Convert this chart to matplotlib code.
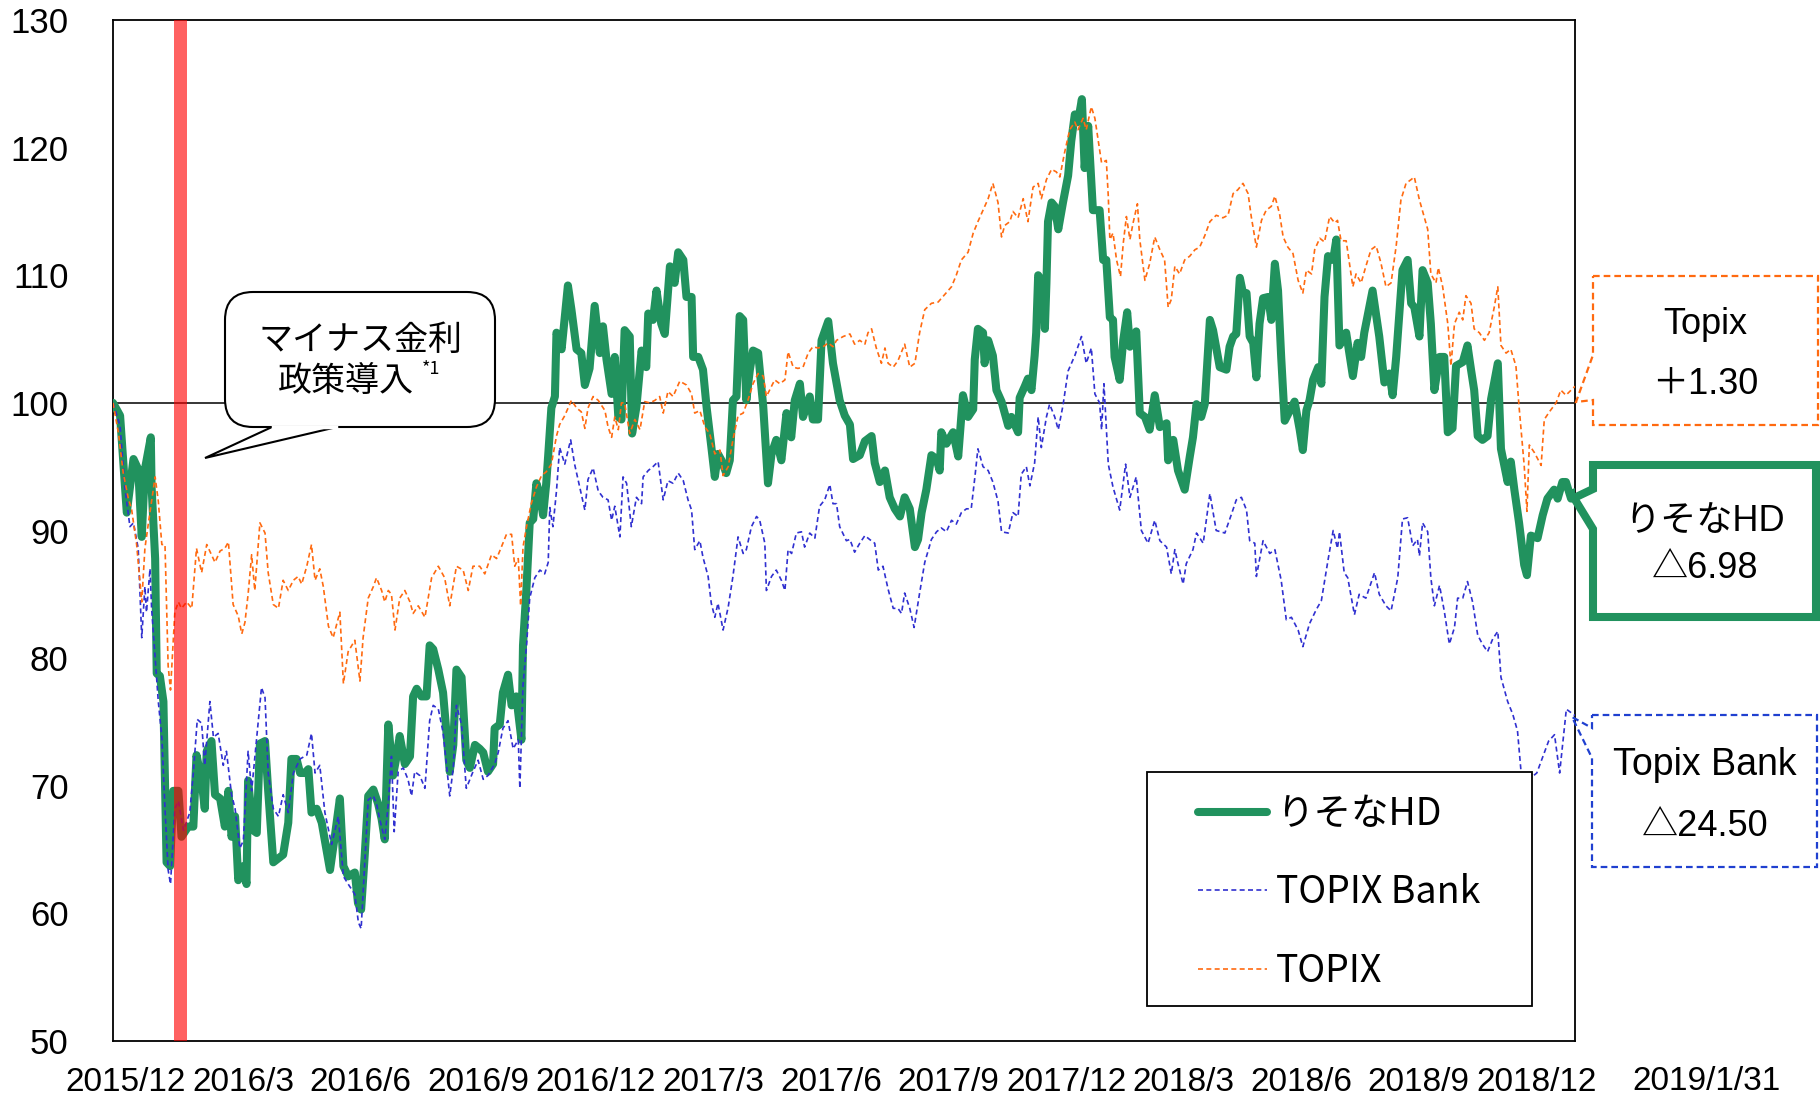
import numpy as np
import matplotlib
matplotlib.use('Agg')
import matplotlib.pyplot as plt
import matplotlib.transforms as mtransforms
from matplotlib.patches import FancyBboxPatch, Polygon, Rectangle

# months since 2015/12/30, values indexed to 100
hd_t = [0.00, 0.18, 0.35, 0.52, 0.64, 0.73, 0.81, 0.96, 0.98, 1.07,
        1.11, 1.19, 1.28, 1.36, 1.45, 1.53, 1.66, 1.74, 1.91, 2.04,
        2.12, 2.25, 2.33, 2.38, 2.50, 2.59, 2.72, 2.84, 2.93, 3.01,
        3.10, 3.18, 3.31, 3.39, 3.43, 3.56, 3.65, 3.73, 3.86, 3.94,
        4.07, 4.32, 4.45, 4.53, 4.66, 4.75, 4.87, 4.96, 5.04, 5.17,
        5.30, 5.51, 5.63, 5.76, 5.85, 5.97, 6.14, 6.22, 6.30, 6.39,
        6.48, 6.61, 6.73, 6.82, 6.90, 6.99, 7.11, 7.20, 7.28, 7.41,
        7.54, 7.62, 7.71, 7.83, 7.96, 8.04, 8.13, 8.26, 8.38, 8.55,
        8.64, 8.72, 8.85, 8.97, 9.06, 9.19, 9.31, 9.40, 9.52, 9.65,
        9.69, 9.82, 9.90, 10.03, 10.12, 10.24, 10.37, 10.41, 10.50, 10.58,
        10.67, 10.75, 10.84, 10.92, 11.00, 11.05, 11.13, 11.22, 11.26, 11.39,
        11.55, 11.64, 11.77, 11.89, 11.98, 12.10, 12.23, 12.36, 12.44, 12.53,
        12.66, 12.74, 12.83, 12.91, 12.99, 13.12, 13.18, 13.29, 13.42, 13.54,
        13.59, 13.71, 13.80, 13.92, 14.01, 14.14, 14.26, 14.35, 14.48, 14.56,
        14.69, 14.73, 14.86, 14.98, 15.07, 15.19, 15.28, 15.36, 15.45, 15.57,
        15.66, 15.74, 15.83, 15.91, 16.00, 16.08, 16.17, 16.25, 16.38, 16.51,
        16.63, 16.72, 16.84, 16.97, 17.10, 17.22, 17.31, 17.44, 17.52, 17.69,
        17.77, 17.90, 17.99, 18.16, 18.28, 18.45, 18.58, 18.71, 18.79, 18.96,
        19.09, 19.26, 19.34, 19.47, 19.60, 19.72, 19.85, 19.98, 20.10, 20.23,
        20.36, 20.44, 20.53, 20.65, 20.78, 20.91, 20.99, 21.03, 21.16, 21.33,
        21.46, 21.58, 21.71, 21.84, 21.88, 21.96, 22.09, 22.13, 22.22, 22.34,
        22.43, 22.56, 22.64, 22.73, 22.81, 22.98, 23.02, 23.15, 23.23, 23.32,
        23.40, 23.44, 23.49, 23.61, 23.66, 23.70, 23.74, 23.83, 23.91, 24.00,
        24.12, 24.25, 24.33, 24.42, 24.50, 24.60, 24.67, 24.76, 24.88, 25.05,
        25.14, 25.22, 25.31, 25.39, 25.43, 25.56, 25.65, 25.75, 25.82, 25.90,
        25.98, 26.07, 26.20, 26.32, 26.45, 26.58, 26.75, 26.79, 26.92, 27.04,
        27.21, 27.34, 27.42, 27.51, 27.63, 27.72, 27.85, 27.93, 28.10, 28.27,
        28.35, 28.44, 28.52, 28.61, 28.69, 28.78, 28.86, 28.95, 29.03, 29.11,
        29.20, 29.33, 29.41, 29.50, 29.58, 29.66, 29.75, 29.88, 30.00, 30.13,
        30.21, 30.30, 30.38, 30.47, 30.60, 30.68, 30.76, 30.85, 30.98, 31.06,
        31.14, 31.31, 31.48, 31.60, 31.69, 31.77, 31.98, 32.15, 32.28, 32.41,
        32.49, 32.58, 32.74, 32.87, 32.96, 33.04, 33.17, 33.25, 33.38, 33.46,
        33.55, 33.68, 33.80, 33.89, 34.01, 34.10, 34.27, 34.39, 34.48, 34.56,
        34.65, 34.77, 34.90, 34.99, 35.16, 35.24, 35.41, 35.49, 35.58, 35.70,
        35.83, 35.90, 36.00, 36.17, 36.30, 36.42, 36.59, 36.68, 36.80, 36.89,
        37.02, 37.12]
hd_val = [100.0, 99.0, 91.4, 95.6, 94.8, 89.5, 94.8, 97.3, 93.4, 87.8,
          78.8, 78.6, 76.6, 64.0, 63.7, 69.6, 69.6, 66.0, 66.8, 66.8,
          72.4, 70.4, 68.2, 72.7, 73.5, 69.3, 69.0, 66.8, 69.6, 66.0,
          67.6, 62.6, 63.7, 62.3, 70.4, 66.5, 66.3, 73.3, 73.5, 69.6,
          64.0, 64.6, 67.1, 72.1, 72.1, 71.0, 71.0, 71.3, 67.9, 68.2,
          67.1, 63.4, 66.0, 69.0, 63.7, 62.9, 63.2, 60.8, 60.3, 64.5,
          69.2, 69.7, 68.6, 67.4, 65.8, 74.8, 70.8, 72.3, 73.9, 71.7,
          72.3, 77.0, 77.6, 77.0, 77.0, 81.0, 80.7, 79.1, 77.3, 71.1,
          73.2, 79.1, 78.5, 72.0, 71.4, 73.2, 72.9, 72.6, 71.1, 71.7,
          74.5, 74.8, 77.3, 78.7, 76.3, 77.0, 73.6, 81.0, 85.6, 90.6,
          90.9, 93.7, 92.8, 91.2, 93.7, 95.9, 99.6, 100.5, 105.5, 104.2,
          109.2, 107.3, 104.2, 103.9, 101.4, 102.7, 107.6, 103.9, 106.0, 103.4,
          100.7, 103.6, 98.9, 98.7, 105.7, 105.2, 97.6, 99.7, 104.1, 102.8,
          107.0, 106.5, 108.8, 106.2, 105.4, 110.7, 109.4, 111.8, 111.2, 108.3,
          108.3, 103.6, 103.6, 102.6, 99.7, 96.6, 94.2, 96.0, 95.5, 94.5,
          95.5, 100.2, 100.5, 106.8, 106.5, 100.2, 102.6, 104.1, 103.9, 99.7,
          93.7, 96.0, 97.1, 95.5, 99.2, 97.3, 100.2, 101.5, 98.9, 100.5,
          98.7, 98.7, 104.9, 106.4, 103.1, 100.2, 99.0, 98.3, 95.6, 95.9,
          97.0, 97.4, 95.3, 93.8, 94.7, 92.6, 91.7, 91.1, 92.6, 91.7,
          88.7, 89.3, 91.4, 93.2, 95.9, 95.6, 94.7, 97.7, 96.8, 97.7,
          95.8, 100.6, 98.9, 99.5, 103.4, 105.8, 105.5, 103.1, 104.9, 103.7,
          101.0, 100.1, 99.2, 98.2, 98.9, 97.7, 100.4, 101.3, 101.9, 101.0,
          103.7, 105.5, 110.0, 109.4, 105.8, 109.4, 114.2, 115.7, 115.4, 113.6,
          115.7, 117.8, 120.5, 122.6, 122.0, 123.8, 118.4, 121.7, 115.1, 115.1,
          111.2, 111.2, 106.7, 106.5, 103.6, 101.8, 104.9, 107.1, 104.4, 104.7,
          105.6, 99.2, 98.9, 97.9, 100.6, 98.1, 98.4, 95.5, 97.1, 94.7,
          93.2, 95.8, 97.3, 99.9, 98.9, 99.9, 106.5, 105.7, 102.8, 102.6,
          104.4, 105.2, 105.4, 109.8, 108.6, 108.6, 105.2, 104.7, 102.0, 106.2,
          108.2, 108.3, 106.5, 110.9, 108.8, 103.6, 98.6, 99.4, 100.1, 97.9,
          96.3, 99.4, 100.2, 101.8, 102.8, 101.5, 108.3, 111.5, 111.2, 112.8,
          104.5, 105.5, 102.1, 104.7, 103.6, 105.5, 108.8, 105.2, 101.6, 102.3,
          100.6, 103.6, 110.4, 111.2, 107.8, 107.5, 105.2, 110.4, 109.4, 106.2,
          101.0, 103.6, 103.6, 97.7, 98.0, 102.9, 103.2, 104.5, 102.6, 101.0,
          97.4, 97.1, 97.4, 100.3, 103.1, 96.4, 93.8, 95.4, 93.2, 90.6,
          87.3, 86.5, 89.6, 89.4, 91.2, 92.5, 93.2, 92.5, 93.8, 93.8,
          92.5, 93.0]

topix_t = [0.00, 0.14, 0.26, 0.39, 0.47, 0.60, 0.73, 0.81, 0.90, 0.98,
           1.07, 1.15, 1.24, 1.32, 1.40, 1.46, 1.57, 1.66, 1.74, 1.87,
           2.00, 2.12, 2.25, 2.38, 2.50, 2.59, 2.72, 2.84, 2.93, 3.05,
           3.18, 3.27, 3.35, 3.43, 3.52, 3.60, 3.73, 3.86, 3.94, 4.07,
           4.20, 4.32, 4.45, 4.58, 4.70, 4.79, 4.92, 5.04, 5.13, 5.25,
           5.34, 5.47, 5.59, 5.76, 5.85, 5.97, 6.14, 6.27, 6.35, 6.48,
           6.61, 6.69, 6.82, 6.90, 6.99, 7.07, 7.16, 7.28, 7.41, 7.54,
           7.62, 7.75, 7.92, 8.09, 8.26, 8.42, 8.55, 8.72, 8.89, 9.02,
           9.14, 9.31, 9.44, 9.61, 9.74, 9.86, 9.99, 10.12, 10.20, 10.29,
           10.35, 10.41, 10.50, 10.62, 10.75, 10.88, 11.00, 11.13, 11.26, 11.34,
           11.47, 11.64, 11.77, 11.89, 11.98, 12.06, 12.19, 12.32, 12.49, 12.57,
           12.66, 12.74, 12.83, 12.91, 12.99, 13.12, 13.25, 13.38, 13.50, 13.63,
           13.76, 13.88, 13.97, 14.09, 14.22, 14.39, 14.56, 14.69, 14.77, 14.90,
           15.03, 15.15, 15.28, 15.41, 15.49, 15.62, 15.74, 15.87, 16.00, 16.12,
           16.25, 16.38, 16.51, 16.59, 16.67, 16.80, 16.93, 17.06, 17.14, 17.27,
           17.39, 17.52, 17.65, 17.77, 17.90, 18.03, 18.16, 18.28, 18.37, 18.54,
           18.71, 18.83, 18.96, 19.09, 19.17, 19.26, 19.38, 19.51, 19.60, 19.68,
           19.81, 19.93, 20.10, 20.23, 20.36, 20.48, 20.61, 20.78, 20.95, 21.12,
           21.29, 21.41, 21.54, 21.71, 21.84, 21.96, 22.09, 22.22, 22.34, 22.47,
           22.56, 22.64, 22.77, 22.85, 22.98, 23.11, 23.23, 23.36, 23.49, 23.57,
           23.70, 23.83, 23.95, 24.04, 24.16, 24.29, 24.42, 24.50, 24.63, 24.71,
           24.84, 24.93, 25.10, 25.22, 25.27, 25.31, 25.39, 25.48, 25.58, 25.65,
           25.73, 25.82, 25.90, 26.01, 26.07, 26.20, 26.32, 26.45, 26.58, 26.70,
           26.79, 26.87, 26.96, 27.08, 27.21, 27.34, 27.47, 27.59, 27.72, 27.85,
           28.01, 28.18, 28.31, 28.44, 28.56, 28.69, 28.82, 28.90, 29.03, 29.16,
           29.28, 29.41, 29.50, 29.62, 29.71, 29.83, 29.96, 30.09, 30.21, 30.30,
           30.43, 30.51, 30.64, 30.76, 30.89, 31.02, 31.09, 31.18, 31.31, 31.48,
           31.56, 31.69, 31.81, 31.94, 32.07, 32.19, 32.32, 32.45, 32.58, 32.70,
           32.83, 32.96, 33.04, 33.17, 33.29, 33.38, 33.46, 33.59, 33.65, 33.76,
           33.89, 33.97, 34.06, 34.18, 34.27, 34.35, 34.48, 34.56, 34.69, 34.82,
           34.94, 35.07, 35.16, 35.24, 35.37, 35.49, 35.62, 35.70, 35.83, 35.90,
           35.96, 36.09, 36.26, 36.34, 36.47, 36.64, 36.76, 36.89, 37.02, 37.12]
topix_val = [100.0, 97.6, 94.5, 92.5, 91.7, 88.9, 84.4, 88.6, 90.6, 92.3,
             94.2, 92.3, 88.9, 88.9, 79.4, 77.5, 83.6, 84.4, 83.9, 84.4,
             83.9, 88.6, 86.7, 88.9, 88.1, 87.5, 88.4, 88.6, 89.1, 84.2,
             83.3, 81.9, 82.8, 85.0, 88.1, 85.3, 90.6, 89.8, 86.7, 84.2,
             83.9, 86.1, 85.3, 86.1, 86.4, 85.8, 87.2, 88.9, 86.1, 87.0,
             85.6, 82.5, 81.6, 83.6, 78.0, 80.5, 81.4, 78.2, 81.6, 84.7,
             85.6, 86.3, 85.3, 84.4, 85.3, 85.0, 82.2, 84.7, 85.3, 84.4,
             83.5, 84.1, 83.2, 86.3, 87.2, 86.3, 84.1, 87.2, 86.9, 85.3,
             87.2, 87.2, 86.6, 88.1, 87.8, 88.7, 89.7, 89.7, 87.2, 87.8,
             84.1, 88.7, 90.3, 92.1, 93.4, 94.3, 94.6, 95.2, 97.4, 98.3,
             99.0, 100.2, 99.6, 99.3, 98.0, 99.6, 100.5, 100.2, 99.4, 98.1,
             97.3, 98.9, 97.9, 100.0, 100.0, 97.6, 98.7, 97.9, 100.1, 100.0,
             100.2, 100.5, 99.2, 100.9, 100.5, 101.7, 101.4, 100.7, 99.2, 99.4,
             98.1, 97.6, 96.0, 96.3, 94.3, 95.0, 97.1, 99.0, 99.2, 100.2,
             101.5, 102.3, 102.1, 100.5, 101.0, 101.8, 101.5, 101.8, 104.0, 102.8,
             102.7, 102.8, 103.9, 104.4, 104.3, 104.4, 104.7, 104.4, 104.9, 105.2,
             105.4, 104.6, 104.9, 104.6, 105.5, 105.8, 104.3, 103.1, 104.3, 103.1,
             102.8, 103.3, 104.6, 102.8, 103.1, 105.5, 107.3, 107.8, 107.9, 108.5,
             109.1, 110.0, 111.2, 111.8, 113.3, 114.2, 115.1, 116.0, 117.2, 115.7,
             113.0, 113.9, 114.2, 115.0, 114.5, 116.0, 114.2, 116.9, 117.2, 116.0,
             117.5, 118.3, 118.1, 117.7, 119.6, 121.4, 122.0, 121.4, 122.3, 121.4,
             123.2, 122.3, 118.8, 119.0, 116.2, 112.8, 113.3, 111.2, 109.9, 112.5,
             114.6, 112.8, 114.1, 115.6, 112.8, 109.6, 110.9, 113.0, 112.0, 111.2,
             107.5, 108.1, 110.7, 110.1, 111.2, 111.5, 112.0, 112.2, 113.1, 114.2,
             114.7, 114.5, 114.7, 116.4, 116.7, 117.2, 116.4, 114.6, 112.2, 114.3,
             115.1, 115.4, 116.2, 114.8, 113.0, 112.2, 111.7, 109.6, 108.6, 110.4,
             110.1, 112.0, 112.9, 112.6, 114.6, 114.1, 114.3, 112.7, 112.7, 109.1,
             110.1, 109.4, 110.7, 112.0, 112.3, 111.0, 109.1, 109.4, 112.3, 115.9,
             117.2, 117.5, 117.7, 115.9, 114.6, 113.6, 110.1, 109.4, 110.6, 109.1,
             106.2, 102.9, 106.2, 107.1, 106.5, 108.4, 107.8, 105.8, 105.5, 104.9,
             105.5, 107.5, 109.1, 104.5, 103.9, 104.2, 102.9, 99.7, 95.1, 91.5,
             96.7, 96.1, 95.1, 98.7, 99.3, 100.0, 101.0, 100.6, 101.0, 101.3]

bank_t = [0.00, 0.18, 0.30, 0.43, 0.52, 0.64, 0.73, 0.81, 0.85, 0.94,
          0.98, 1.07, 1.15, 1.24, 1.32, 1.40, 1.46, 1.57, 1.66, 1.79,
          1.95, 2.04, 2.14, 2.25, 2.33, 2.46, 2.55, 2.67, 2.80, 2.88,
          3.01, 3.10, 3.22, 3.31, 3.43, 3.52, 3.65, 3.77, 3.86, 3.94,
          4.07, 4.20, 4.32, 4.45, 4.58, 4.75, 4.92, 5.04, 5.13, 5.25,
          5.38, 5.55, 5.72, 5.85, 5.97, 6.14, 6.23, 6.30, 6.40, 6.48,
          6.61, 6.69, 6.77, 6.90, 6.99, 7.07, 7.14, 7.24, 7.37, 7.49,
          7.58, 7.66, 7.79, 7.92, 8.04, 8.13, 8.26, 8.38, 8.55, 8.64,
          8.72, 8.85, 8.97, 9.14, 9.27, 9.40, 9.52, 9.69, 9.78, 9.90,
          10.03, 10.16, 10.29, 10.33, 10.41, 10.50, 10.58, 10.71, 10.84, 10.96,
          11.05, 11.09, 11.17, 11.26, 11.34, 11.47, 11.62, 11.72, 11.85, 11.98,
          12.06, 12.19, 12.32, 12.44, 12.57, 12.66, 12.74, 12.87, 12.95, 13.04,
          13.16, 13.29, 13.42, 13.46, 13.59, 13.71, 13.84, 13.97, 14.09, 14.22,
          14.35, 14.48, 14.60, 14.69, 14.77, 14.90, 14.98, 15.11, 15.19, 15.28,
          15.36, 15.49, 15.62, 15.74, 15.87, 16.00, 16.08, 16.21, 16.34, 16.42,
          16.55, 16.59, 16.72, 16.84, 16.97, 17.06, 17.14, 17.23, 17.35, 17.48,
          17.56, 17.69, 17.82, 17.94, 18.07, 18.20, 18.28, 18.37, 18.45, 18.62,
          18.71, 18.83, 18.96, 19.09, 19.21, 19.34, 19.43, 19.55, 19.68, 19.81,
          19.93, 20.02, 20.10, 20.23, 20.34, 20.48, 20.61, 20.78, 20.91, 21.03,
          21.16, 21.29, 21.41, 21.54, 21.67, 21.79, 21.88, 21.96, 22.09, 22.22,
          22.34, 22.47, 22.56, 22.73, 22.85, 22.98, 23.06, 23.19, 23.28, 23.40,
          23.49, 23.57, 23.70, 23.78, 23.91, 24.00, 24.12, 24.25, 24.42, 24.59,
          24.71, 24.84, 24.93, 25.05, 25.10, 25.16, 25.27, 25.39, 25.56, 25.71,
          25.82, 25.98, 26.11, 26.28, 26.45, 26.58, 26.75, 26.87, 26.96, 27.04,
          27.17, 27.25, 27.42, 27.51, 27.68, 27.85, 28.01, 28.23, 28.40, 28.52,
          28.65, 28.78, 28.86, 28.99, 29.03, 29.20, 29.37, 29.50, 29.66, 29.79,
          29.92, 30.09, 30.21, 30.38, 30.55, 30.68, 30.85, 30.98, 31.09, 31.14,
          31.26, 31.35, 31.52, 31.64, 31.81, 32.03, 32.15, 32.32, 32.45, 32.62,
          32.74, 32.87, 33.00, 33.12, 33.17, 33.25, 33.38, 33.46, 33.55, 33.68,
          33.80, 33.93, 34.06, 34.14, 34.27, 34.39, 34.52, 34.65, 34.77, 34.90,
          35.03, 35.16, 35.24, 35.41, 35.54, 35.66, 35.75, 35.95, 36.15, 36.45,
          36.60, 36.73, 36.90, 37.12]
bank_val = [100.0, 98.2, 93.4, 90.3, 90.6, 88.6, 81.6, 85.6, 83.6, 87.0,
            83.9, 80.0, 76.6, 73.8, 68.2, 63.4, 62.3, 68.2, 68.8, 66.5,
            67.9, 71.0, 75.2, 74.9, 71.6, 76.6, 73.8, 74.1, 71.6, 72.7,
            69.3, 68.2, 65.1, 65.7, 72.7, 69.6, 73.8, 77.7, 76.9, 71.0,
            68.2, 67.6, 69.3, 67.9, 71.0, 72.1, 72.4, 74.1, 71.0, 71.6,
            67.9, 65.4, 67.6, 62.9, 62.3, 61.5, 59.3, 58.8, 64.5, 68.9,
            69.2, 68.6, 67.4, 65.8, 68.6, 72.3, 66.4, 71.1, 71.4, 70.5,
            69.2, 71.1, 70.8, 69.8, 75.1, 76.3, 76.0, 74.2, 69.2, 71.4,
            76.3, 74.8, 69.8, 71.1, 72.0, 70.5, 70.8, 71.7, 72.6, 74.5,
            75.1, 72.9, 73.6, 69.8, 77.9, 81.0, 84.7, 86.3, 86.9, 86.6,
            87.5, 91.8, 90.3, 93.1, 96.5, 95.2, 97.1, 95.2, 93.4, 91.6,
            94.0, 94.9, 93.1, 92.6, 92.4, 90.8, 91.9, 89.5, 94.2, 93.7,
            90.3, 92.6, 92.1, 94.2, 94.7, 95.0, 95.4, 92.4, 93.9, 93.7,
            94.5, 93.9, 92.4, 91.6, 88.5, 89.2, 87.9, 86.4, 84.3, 83.2,
            84.3, 82.2, 84.0, 86.4, 89.5, 88.2, 88.5, 90.3, 91.1, 90.8,
            89.0, 85.3, 86.4, 86.9, 86.1, 85.3, 88.5, 88.2, 89.8, 89.9,
            88.7, 89.8, 89.4, 91.9, 92.4, 93.6, 92.1, 92.1, 90.3, 89.2,
            89.3, 88.3, 89.0, 89.6, 89.3, 89.0, 86.9, 87.2, 85.4, 83.9,
            83.9, 83.5, 85.1, 83.9, 82.4, 85.1, 87.5, 89.3, 89.9, 90.2,
            89.9, 90.8, 90.5, 91.4, 91.7, 91.7, 94.1, 96.4, 95.0, 94.7,
            93.8, 92.3, 89.9, 89.8, 91.4, 91.1, 94.4, 95.0, 93.5, 95.3,
            98.9, 96.5, 98.9, 99.9, 98.9, 97.9, 99.8, 102.5, 103.7, 105.2,
            103.1, 104.3, 100.7, 100.0, 97.9, 101.5, 95.2, 93.4, 91.6, 95.2,
            92.6, 94.2, 90.0, 89.0, 90.8, 89.2, 88.7, 86.6, 88.5, 87.4,
            85.8, 87.4, 88.5, 89.8, 89.0, 92.9, 90.0, 89.8, 91.3, 92.4,
            92.6, 91.6, 89.2, 89.0, 86.4, 89.2, 88.2, 88.5, 86.1, 83.0,
            83.2, 82.2, 80.9, 82.7, 83.8, 84.5, 87.7, 90.0, 88.6, 89.9,
            86.7, 86.3, 83.4, 85.0, 84.7, 86.7, 85.0, 84.1, 83.7, 86.3,
            90.9, 91.0, 88.8, 89.3, 88.0, 90.6, 89.9, 86.3, 84.1, 85.7,
            83.7, 81.1, 82.4, 84.7, 84.7, 86.0, 84.4, 81.8, 81.1, 80.5,
            81.5, 82.1, 78.5, 76.6, 75.6, 74.3, 71.1, 70.5, 71.0, 73.5,
            74.0, 71.0, 76.0, 75.5]

x_labels = ['2015/12', '2016/3', '2016/6', '2016/9', '2016/12', '2017/3', '2017/6',
            '2017/9', '2017/12', '2018/3', '2018/6', '2018/9', '2018/12']
y_ticks = [50, 60, 70, 80, 90, 100, 110, 120, 130]
series_names = ['りそなHD', 'TOPIX Bank', 'TOPIX']
policy_span = (1.56, 1.88)

GREEN = '#21925E'
BLUE = '#3030D0'
ORANGE = '#FF6A10'

W, H = 1820, 1097
plt.rcParams['font.family'] = ['Liberation Sans', 'Noto Sans CJK JP', 'DejaVu Sans']
JP = ['Noto Sans CJK JP', 'DejaVu Sans']

fig = plt.figure(figsize=(W / 100, H / 100), dpi=100)
ax = fig.add_axes([113 / W, 1 - 1041 / H, 1462 / W, 1021 / H])
# pixel coords of the output image, origin top-left
px = mtransforms.Affine2D().scale(1 / W, -1 / H).translate(0, 1) + fig.transFigure

ax.axhline(100, color='black', lw=1.1, zorder=1.5)
l_hd, = ax.plot(hd_t, hd_val, color=GREEN, lw=5.8, solid_joinstyle='round',
                solid_capstyle='round', zorder=3, label=series_names[0])
l_bank, = ax.plot(bank_t, bank_val, color=BLUE, lw=1.2, ls=(0, (3, 2)),
                  zorder=4, label=series_names[1])
l_topix, = ax.plot(topix_t, topix_val, color=ORANGE, lw=1.2, ls=(0, (3, 2)),
                   zorder=5, label=series_names[2])
ax.axvspan(*policy_span, color='red', alpha=0.62, lw=0, zorder=6)

ax.set_xlim(0, 37.12)
ax.set_ylim(50, 130)
ax.set_yticks(y_ticks)
ax.set_xticks(0.32 + 2.985 * np.arange(len(x_labels)), x_labels)
ax.tick_params(axis='y', length=0, pad=32, labelsize=25)
ax.tick_params(axis='x', length=0, pad=19, labelsize=24)
for s in ax.spines.values():
    s.set_linewidth(1.3)

# legend with its own frame
ax.add_patch(Rectangle((1147, 772), 385, 234, transform=px, fc='white', ec='black',
                       lw=1.3, zorder=7, clip_on=False))
leg = ax.legend(handles=[l_hd, l_bank, l_topix], loc='upper left',
                bbox_to_anchor=(1198, 795), bbox_transform=px, frameon=False,
                prop={'family': JP, 'size': 27}, handlelength=1.85, handletextpad=0.22,
                labelspacing=1.05, borderpad=0, borderaxespad=0)
leg.set_zorder(8)

# speech bubble
ax.add_patch(FancyBboxPatch((225, 292), 270, 135, boxstyle='round,pad=0,rounding_size=28',
                            transform=px, fc='white', ec='black', lw=1.5, zorder=7,
                            clip_on=False))
ax.add_patch(Polygon([(272, 427), (205, 458), (337, 427)], closed=False, transform=px,
                     fc='white', ec='black', lw=1.5, zorder=7.5, clip_on=False))
ax.plot([273, 336], [427, 427], color='white', lw=2.5, transform=px, zorder=7.6,
        clip_on=False)
ax.text(360, 340, 'マイナス金利', transform=px, ha='center', va='center',
        family=JP, fontsize=24.5, zorder=8)
ax.text(346, 382, '政策導入', transform=px, ha='center', va='center',
        family=JP, fontsize=24.5, zorder=8)
ax.text(422, 369, '*1', transform=px, ha='left', va='center',
        family=JP, fontsize=13, zorder=8)

# callout boxes on the right
fig.add_artist(Polygon([(1593, 276), (1818, 276), (1818, 425), (1593, 425), (1593, 400),
                        (1576, 402), (1593, 355)], closed=True, transform=px, fill=False,
                       ec=ORANGE, lw=1.6, ls=(0, (3, 1.8))))
fig.add_artist(Polygon([(1593, 465), (1816, 465), (1816, 617), (1593, 617), (1593, 529),
                        (1574, 498), (1593, 489)], closed=True, transform=px, fill=False,
                       ec=GREEN, lw=5.8, joinstyle='miter'))
fig.add_artist(Polygon([(1592, 715), (1817, 715), (1817, 867), (1592, 867), (1592, 758),
                        (1572, 717), (1592, 728)], closed=True, transform=px, fill=False,
                       ec='#2040D0', lw=1.6, ls=(0, (3, 1.8))))

box_text = [('Topix', 324, 26), ('＋1.30', 384, 26), ('りそなHD', 522, 26),
            ('△6.98', 568, 26), ('Topix Bank', 765, 27), ('△24.50', 826, 26)]
for s, y, fs in box_text:
    fig.text(1705, y, s, transform=px, ha='center', va='center', fontsize=fs)

fig.text(1706, 1082, '2019/1/31', transform=px, ha='center', va='center', fontsize=24)

fig.savefig('out.png', dpi=100, facecolor='white')
